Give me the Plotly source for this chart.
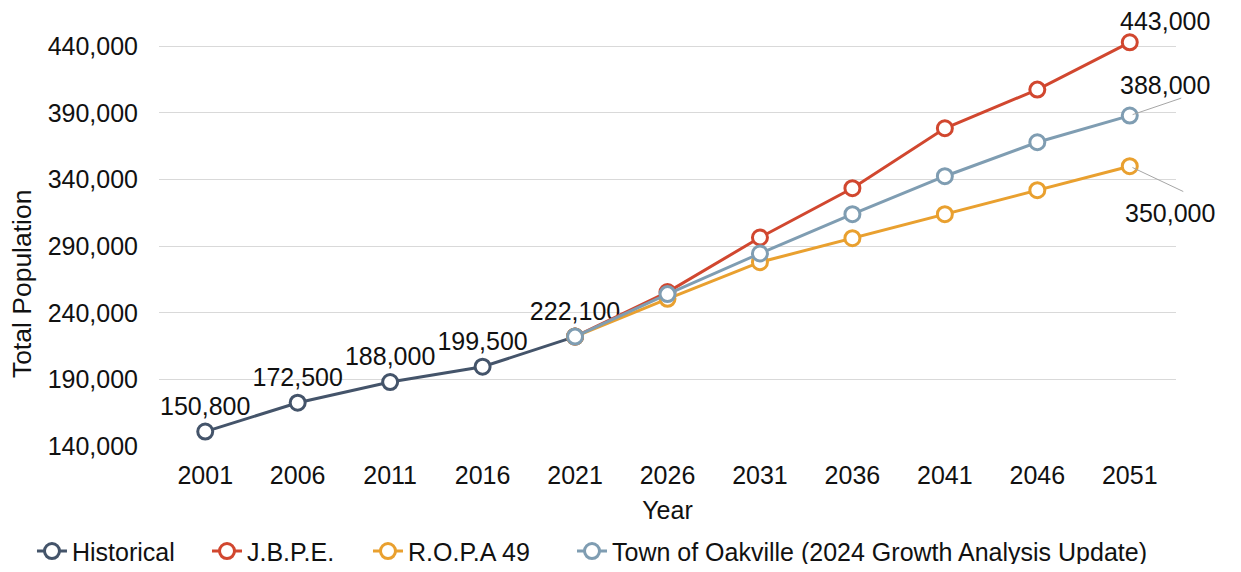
import plotly.graph_objects as go

years = ["2001", "2006", "2011", "2016", "2021", "2026", "2031", "2036", "2041", "2046", "2051"]
hist_years = ["2001", "2006", "2011", "2016", "2021"]
hist_vals = [150800, 172500, 188000, 199500, 222100]
proj_years = ["2021", "2026", "2031", "2036", "2041", "2046", "2051"]
jbpe_vals = [222100, 255500, 296500, 333500, 378500, 407500, 443000]
ropa_vals = [222100, 250500, 278000, 296000, 314000, 332000, 350000]
town_vals = [222100, 254000, 284500, 314000, 342500, 368000, 388000]

C_HIST = "#44546A"
C_JBPE = "#D1472F"
C_ROPA = "#E9A02F"
C_TOWN = "#7F9DB2"
FONT = "Liberation Sans, Arial, sans-serif"
TXT = "#111111"
FS = 25

fig = go.Figure()

def add(name, x, y, color, legend, text=None):
    fig.add_trace(go.Scatter(
        x=x, y=y, name=name, mode="lines+markers" + ("+text" if text else ""),
        line=dict(color=color, width=3),
        marker=dict(symbol="circle", size=15, color="white", line=dict(color=color, width=3)),
        text=text, textposition="top center",
        textfont=dict(size=FS, color=TXT, family=FONT),
        cliponaxis=False, legend=legend,
    ))

add("Historical", hist_years, hist_vals, C_HIST, "legend", [f"{v:,}" for v in hist_vals])
add("J.B.P.E.", proj_years, jbpe_vals, C_JBPE, "legend2")
add("R.O.P.A 49", proj_years, ropa_vals, C_ROPA, "legend3")
add("Town of Oakville (2024 Growth Analysis Update)", proj_years, town_vals, C_TOWN, "legend4")

last = years.index(proj_years[-1])
# End labels
fig.add_annotation(x=last, y=jbpe_vals[-1], text=f"{jbpe_vals[-1]:,}", showarrow=False,
                   xshift=35, yshift=21, font=dict(size=FS, color=TXT, family=FONT))
fig.add_annotation(x=last, y=town_vals[-1], text=f"{town_vals[-1]:,}", showarrow=False,
                   xshift=35, yshift=31, font=dict(size=FS, color=TXT, family=FONT))
fig.add_annotation(x=last, y=ropa_vals[-1], text=f"{ropa_vals[-1]:,}", showarrow=False,
                   xshift=40, yshift=-47, font=dict(size=FS, color=TXT, family=FONT))
# leader lines
fig.add_annotation(x=last, y=town_vals[-1], text=" ", font=dict(size=1), showarrow=True,
                   arrowhead=0, arrowwidth=1, arrowcolor="#A6A6A6", ax=53, ay=-18, standoff=3)
fig.add_annotation(x=last, y=ropa_vals[-1], text=" ", font=dict(size=1), showarrow=True,
                   arrowhead=0, arrowwidth=1, arrowcolor="#A6A6A6", ax=55, ay=26, standoff=3)

# y-axis title (placed as in the reference, slightly below centre)
fig.add_annotation(xref="paper", yref="paper", x=-0.1347, y=0.392, text="Total Population",
                   textangle=-90, showarrow=False, xanchor="center", yanchor="middle",
                   font=dict(size=26.5, color=TXT, family=FONT))

def leg(x):
    return dict(orientation="h", x=x, xanchor="left", y=-0.255, yanchor="middle",
                font=dict(size=FS, color=TXT, family=FONT), itemwidth=30,
                bgcolor="rgba(0,0,0,0)")

fig.update_layout(
    width=1225, height=556,
    margin=dict(l=151, r=57, t=25, b=118, autoexpand=False),
    plot_bgcolor="white", paper_bgcolor="white",
    font=dict(family=FONT, size=FS, color=TXT),
    showlegend=True,
    legend=leg(-0.1249), legend2=leg(0.0472), legend3=leg(0.2055), legend4=leg(0.4061),
    xaxis=dict(type="category", categoryorder="array", categoryarray=years,
               range=[-0.5, 10.5], showgrid=False, showline=False, ticks="",
               ticklabelstandoff=12,
               title=dict(text="Year", font=dict(size=FS), standoff=13),
               tickfont=dict(size=FS)),
    yaxis=dict(range=[140000, 450000], tickvals=[140000, 190000, 240000, 290000, 340000, 390000, 440000],
               tickformat=",d", showgrid=True, gridcolor="#D9D9D9", gridwidth=1,
               zeroline=False, showline=False, ticks="", ticklabelstandoff=20,
               tickfont=dict(size=FS)),
)

fig.write_html("out.html")
